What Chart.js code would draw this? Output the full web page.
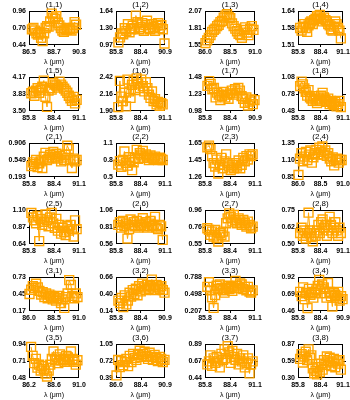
<!DOCTYPE html>
<html>
<head>
<meta charset="utf-8">
<script src="https://cdn.jsdelivr.net/npm/chart.js@4"></script>
<style>
  body { margin: 0; background: #fff; }
  #grid { position: relative; width: 350px; height: 400px; overflow: hidden; }
  #grid canvas { position: absolute; }
</style>
</head>
<body>
<div id="grid"></div>
<script>
// wavelength grids (micron)
const lamA = [86.05, 86.22, 86.38, 86.55, 86.71, 86.88, 87.04, 87.21, 87.37, 87.54,
              87.71, 87.87, 88.04, 88.20, 88.37, 88.53, 88.70, 88.86, 89.03, 89.20,
              89.36, 89.53, 89.69, 89.86, 90.02, 90.19, 90.35, 90.52, 90.68, 90.85];
const lamB = [86.75, 86.88, 87.01, 87.14, 87.27, 87.41, 87.54, 87.67, 87.80, 87.93,
              88.06, 88.19, 88.32, 88.45, 88.58, 88.72, 88.85, 88.98, 89.11, 89.24,
              89.37, 89.50, 89.63, 89.76, 89.90, 90.03, 90.16, 90.29, 90.42, 90.55];
const lamC = [86.40, 86.55, 86.71, 86.86, 87.01, 87.17, 87.32, 87.47, 87.63, 87.78,
              87.93, 88.09, 88.24, 88.39, 88.55, 88.70, 88.85, 89.01, 89.16, 89.31,
              89.47, 89.62, 89.77, 89.93, 90.08, 90.23, 90.39, 90.54, 90.69, 90.85];

// spaxel flux values
const flux11 = [0.68,0.70,0.66,0.62,0.60,0.64,0.55,0.50,0.62,0.70, 0.73,0.72,0.80,0.92,0.86,0.84,0.88,0.78,0.74,0.70, 0.66,0.64,0.68,0.67,0.70,0.68,0.66,0.70,0.79,0.75];
const flux12 = [1.02,1.12,1.20,1.18,1.30,1.25,1.38,1.22,1.28,1.35, 1.30,1.55,1.42,1.28,1.32,1.40,1.25,1.36,1.45,1.30, 1.28,1.38,1.32,1.25,1.35,1.40,1.30,1.36,1.28,1.00];
const flux13 = [1.58,1.62,1.66,1.70,1.75,1.78,1.80,1.84,1.86,1.90, 1.92,1.97,2.00,2.02,1.98,1.96,1.88,1.84,1.80,1.76, 1.72,1.70,1.66,1.78,1.82,1.74,1.70,1.80,1.84,1.78];
const flux14 = [1.575,1.565,1.58,1.59,1.575,1.56,1.585,1.595,1.60,1.59, 1.605,1.61,1.62,1.615,1.625,1.61,1.60,1.615,1.605,1.60, 1.59,1.585,1.57,1.565,1.58,1.60,1.59,1.575,1.565,1.535];
const flux15 = [3.85,3.88,3.80,3.90,3.95,3.86,3.92,3.98,4.10,3.78, 3.58,3.90,3.95,3.92,4.05,4.02,4.00,3.96,4.08,4.02, 3.98,3.94,3.90,3.86,3.80,3.75,3.70,3.78,3.65,3.72];
const flux16 = [1.96,2.36,2.12,2.05,2.18,1.97,2.38,2.20,2.10,2.30, 2.36,2.22,2.40,2.32,2.25,2.38,2.28,2.20,2.34,2.25, 2.15,2.10,2.20,2.05,2.08,2.00,2.04,1.98,2.02,2.00];
const flux17 = [1.35,1.42,1.38,1.30,1.32,1.18,1.25,1.22,1.14,1.20, 1.26,1.18,1.22,1.16,1.24,1.28,1.22,1.30,1.25,1.32, 1.28,1.20,1.16,1.10,1.18,1.06,1.12,1.15,1.08,1.14];
const flux18 = [0.92,1.00,0.95,0.88,0.82,0.75,0.85,0.72,0.70,0.66, 0.74,0.68,0.62,0.70,0.66,0.75,0.80,0.72,0.68,0.64, 0.70,0.60,0.66,0.62,0.58,0.64,0.56,0.60,0.66,0.55];
const flux21 = [0.42,0.50,0.46,0.55,0.40,0.48,0.52,0.38,0.62,0.70, 0.55,0.58,0.66,0.60,0.72,0.62,0.68,0.58,0.64,0.52, 0.60,0.55,0.66,0.85,0.78,0.55,0.38,0.58,0.52,0.55];
const flux22 = [0.72,0.78,0.68,0.80,0.95,0.75,0.70,0.85,0.80,0.62, 0.76,0.84,0.98,0.82,0.92,0.88,0.96,0.84,0.90,0.86, 0.80,0.88,0.84,0.82,0.86,0.82,0.80,0.84,0.82,0.80];
const flux23 = [1.60,1.62,1.58,1.50,1.42,1.38,1.46,1.30,1.40,1.48, 1.36,1.44,1.52,1.42,1.38,1.34,1.40,1.36,1.42,1.38, 1.45,1.36,1.40,1.48,1.44,1.50,1.46,1.52,1.50,1.52];
const flux24 = [0.88,1.12,1.20,1.08,1.15,1.22,1.10,1.18,1.24,1.06, 1.14,1.20,1.25,1.18,1.28,1.22,1.30,1.18,1.24,1.16, 1.20,1.12,1.08,1.14,1.02,1.10,1.12,1.06,1.10,1.10];
const flux25 = [1.06,1.00,0.96,0.92,1.02,0.68,0.98,0.90,0.94,1.04, 0.96,0.88,1.00,1.06,0.92,0.86,0.98,0.82,0.90,0.78, 0.86,0.80,0.76,0.88,0.82,0.90,0.84,0.74,0.96,0.84];
const flux26 = [0.84,0.88,0.80,0.90,0.82,0.86,0.64,0.78,0.92,0.84, 0.88,0.82,0.90,0.80,0.86,0.84,0.94,0.82,0.88,0.80, 0.86,0.90,0.82,0.84,0.96,0.80,0.78,0.84,0.82,0.62];
const flux27 = [0.74,0.72,0.66,0.70,0.64,0.72,0.62,0.58,0.68,0.66, 0.70,0.64,0.80,0.86,0.92,0.88,0.82,0.90,0.84,0.80, 0.86,0.82,0.78,0.84,0.80,0.76,0.82,0.78,0.74,0.76];
const flux28 = [0.58,0.62,0.56,0.60,0.54,0.58,0.73,0.60,0.55,0.52, 0.58,0.56,0.60,0.64,0.58,0.66,0.68,0.62,0.64,0.56, 0.60,0.70,0.64,0.58,0.62,0.66,0.60,0.56,0.62,0.58];
const flux31 = [0.45,0.52,0.58,0.55,0.62,0.56,0.50,0.44,0.48,0.40, 0.46,0.38,0.44,0.42,0.36,0.40,0.34,0.38,0.42,0.30, 0.36,0.22,0.40,0.46,0.68,0.60,0.42,0.38,0.46,0.40];
const flux32 = [0.30,0.26,0.34,0.20,0.38,0.24,0.30,0.42,0.36,0.46, 0.40,0.48,0.38,0.52,0.44,0.56,0.50,0.46,0.54,0.48, 0.52,0.62,0.50,0.46,0.54,0.50,0.48,0.52,0.46,0.42];
const flux33 = [0.62,0.70,0.56,0.44,0.26,0.48,0.64,0.58,0.66,0.60, 0.56,0.52,0.60,0.64,0.58,0.62,0.55,0.60,0.72,0.64, 0.60,0.68,0.66,0.58,0.62,0.56,0.62,0.54,0.52,0.56];
const flux34 = [0.72,0.66,0.78,0.62,0.70,0.50,0.76,0.68,0.72,0.64, 0.70,0.74,0.80,0.88,0.76,0.82,0.78,0.70,0.64,0.84, 0.72,0.66,0.52,0.70,0.68,0.64,0.72,0.60,0.66,0.62];
const flux35 = [0.90,0.78,0.68,0.74,0.62,0.66,0.58,0.64,0.60,0.54, 0.50,0.58,0.66,0.74,0.84,0.72,0.76,0.68,0.80,0.72, 0.74,0.70,0.78,0.76,0.72,0.84,0.74,0.70,0.66,0.72];
const flux36 = [0.44,0.74,0.60,0.72,0.64,0.70,0.76,0.62,0.82,0.70, 0.86,0.78,0.74,0.84,0.92,0.80,0.86,0.90,0.82,0.76, 0.88,0.80,0.74,0.84,0.78,0.72,0.80,0.76,0.70,0.74];
const flux37 = [0.62,0.66,0.74,0.60,0.70,0.64,0.72,0.66,0.58,0.76, 0.68,0.82,0.70,0.86,0.78,0.64,0.80,0.72,0.68,0.76, 0.62,0.70,0.66,0.74,0.58,0.64,0.70,0.50,0.62,0.66];
const flux38 = [0.62,0.70,0.56,0.66,0.74,0.60,0.78,0.64,0.68,0.46, 0.38,0.42,0.36,0.48,0.40,0.54,0.44,0.60,0.52,0.66, 0.58,0.64,0.50,0.56,0.62,0.48,0.58,0.54,0.60,0.44];

const titles = ['(1,1)','(1,2)','(1,3)','(1,4)','(1,5)','(1,6)','(1,7)','(1,8)',
                '(2,1)','(2,2)','(2,3)','(2,4)','(2,5)','(2,6)','(2,7)','(2,8)',
                '(3,1)','(3,2)','(3,3)','(3,4)','(3,5)','(3,6)','(3,7)','(3,8)'];
const grids = [lamB, lamA, lamA, lamA, lamA, lamA, lamA, lamA,
               lamA, lamA, lamA, lamA, lamA, lamA, lamA, lamA,
               lamA, lamA, lamA, lamA, lamC, lamA, lamA, lamA];
const fluxes = [flux11, flux12, flux13, flux14, flux15, flux16, flux17, flux18,
                flux21, flux22, flux23, flux24, flux25, flux26, flux27, flux28,
                flux31, flux32, flux33, flux34, flux35, flux36, flux37, flux38];

const xTickLabels = [
  ['86.5','88.7','90.8'], ['85.8','88.4','90.9'], ['86.0','88.5','91.0'], ['85.8','88.4','91.1'],
  ['85.8','88.4','91.1'], ['85.8','88.4','91.1'], ['85.8','88.4','90.9'], ['85.8','88.4','91.1'],
  ['85.8','88.4','91.1'], ['85.8','88.4','91.1'], ['85.8','88.4','91.1'], ['86.0','88.5','91.0'],
  ['85.8','88.4','91.1'], ['85.8','88.4','91.1'], ['85.8','88.4','91.1'], ['85.8','88.4','91.1'],
  ['86.0','88.5','91.0'], ['85.8','88.4','90.9'], ['85.8','88.4','91.1'], ['85.8','88.4','90.9'],
  ['86.2','88.6','91.0'], ['86.0','88.4','90.9'], ['85.8','88.4','91.1'], ['85.8','88.4','91.1']
];
const yTickLabels = [
  ['0.44','0.70','0.96'], ['0.97','1.30','1.64'], ['1.55','1.81','2.07'], ['1.51','1.58','1.64'],
  ['3.50','3.83','4.17'], ['1.90','2.16','2.42'], ['0.98','1.23','1.48'], ['0.48','0.78','1.08'],
  ['0.193','0.549','0.906'], ['0.5','0.8','1.1'], ['1.26','1.45','1.65'], ['0.85','1.10','1.35'],
  ['0.64','0.87','1.10'], ['0.56','0.81','1.06'], ['0.55','0.76','0.96'], ['0.50','0.62','0.75'],
  ['0.17','0.45','0.73'], ['0.14','0.40','0.66'], ['0.207','0.498','0.788'], ['0.46','0.69','0.92'],
  ['0.48','0.71','0.94'], ['0.39','0.72','1.05'], ['0.44','0.67','0.89'], ['0.30','0.59','0.87']
];

// panel frame boxes
const colLeft = [29, 116, 205, 298];
const colWidth = [50, 49, 50, 45];
const rowTop = [11, 77, 143, 210, 277, 344];
const boxHeight = 34;

const ORANGE = '#ffa500';
const FONT = 'Liberation Sans, Arial, sans-serif';
const AXIS_W = 26, TITLE_H = 11, XAXIS_H = 22, PAD_R = 12;

// Frame around the plot with small ticks at the middle of each side
const framePlugin = {
    id: 'frame',
    beforeDatasetsDraw(chart) {
        const { ctx, chartArea: a, scales } = chart;
        const xm = scales.x.getPixelForValue(scales.x.ticks[1].value);
        const ym = scales.y.getPixelForValue(scales.y.ticks[1].value);
        ctx.save();
        ctx.strokeStyle = '#000';
        ctx.lineWidth = 1;
        ctx.strokeRect(a.left + 0.5, a.top + 0.5, a.right - a.left - 1, a.bottom - a.top - 1);
        ctx.beginPath();
        ctx.moveTo(Math.round(xm) + 0.5, a.top); ctx.lineTo(Math.round(xm) + 0.5, a.top - 3);
        ctx.moveTo(Math.round(xm) + 0.5, a.bottom); ctx.lineTo(Math.round(xm) + 0.5, a.bottom + 2);
        ctx.moveTo(a.left, Math.round(ym) + 0.5); ctx.lineTo(a.left - 2, Math.round(ym) + 0.5);
        ctx.moveTo(a.right, Math.round(ym) + 0.5); ctx.lineTo(a.right + 3, Math.round(ym) + 0.5);
        ctx.stroke();
        ctx.restore();
    }
};

function threeTicks(scale) {
    const mid = (scale.min + scale.max) / 2;
    scale.ticks = [{ value: scale.min }, { value: mid }, { value: scale.max }];
}

function makePanel(i) {
    const row = Math.floor(i / 4), col = i % 4;
    const bw = colWidth[col];
    const canvas = document.createElement('canvas');
    canvas.width = AXIS_W + bw + PAD_R;
    canvas.height = TITLE_H + boxHeight + XAXIS_H;
    canvas.style.left = (colLeft[col] - AXIS_W) + 'px';
    canvas.style.top = (rowTop[row] - TITLE_H) + 'px';
    document.getElementById('grid').appendChild(canvas);

    const xs = grids[i], ys = fluxes[i];
    const xl = xTickLabels[i], yl = yTickLabels[i];

    return new Chart(canvas, {
        type: 'scatter',
        data: {
            datasets: [{
                data: xs.map((x, k) => ({ x: x, y: ys[k] })),
                showLine: true,
                borderColor: ORANGE,
                borderWidth: 1,
                pointStyle: 'rect',
                pointRadius: 6.3,
                pointBorderWidth: 1.4,
                pointBorderColor: ORANGE,
                pointBackgroundColor: 'rgba(0,0,0,0)',
                clip: 8
            }]
        },
        options: {
            responsive: false,
            animation: false,
            devicePixelRatio: 1,
            layout: { padding: { left: 0, right: PAD_R, top: 0, bottom: 0 } },
            plugins: {
                legend: { display: false },
                tooltip: { enabled: false },
                title: {
                    display: true,
                    fullSize: false,
                    text: titles[i],
                    color: '#000',
                    font: { family: FONT, size: 8, weight: 'normal', lineHeight: 1 },
                    padding: { top: 1, bottom: 2 }
                }
            },
            scales: {
                x: {
                    type: 'linear',
                    min: parseFloat(xl[0]),
                    max: parseFloat(xl[2]),
                    grid: { display: false, drawTicks: false },
                    border: { display: false },
                    afterBuildTicks: threeTicks,
                    afterFit: (s) => { s.height = XAXIS_H; },
                    ticks: {
                        autoSkip: false, maxRotation: 0, padding: 4, color: '#000',
                        font: { family: FONT, size: 7, weight: 'bold', lineHeight: 1 },
                        callback: (v, idx) => xl[idx]
                    },
                    title: {
                        display: true, text: 'λ (μm)', color: '#000',
                        font: { family: FONT, size: 7, lineHeight: 1 },
                        padding: { top: 0, bottom: 1 }
                    }
                },
                y: {
                    type: 'linear',
                    min: parseFloat(yl[0]),
                    max: parseFloat(yl[2]),
                    grid: { display: false, drawTicks: false },
                    border: { display: false },
                    afterBuildTicks: threeTicks,
                    afterFit: (s) => { s.width = AXIS_W; },
                    ticks: {
                        autoSkip: false, padding: 3, color: '#000',
                        font: { family: FONT, size: 7, weight: 'bold', lineHeight: 1 },
                        callback: (v, idx) => yl[idx]
                    }
                }
            }
        },
        plugins: [framePlugin]
    });
}

for (let i = 0; i < titles.length; i++) {
    makePanel(i);
}
</script>
</body>
</html>
